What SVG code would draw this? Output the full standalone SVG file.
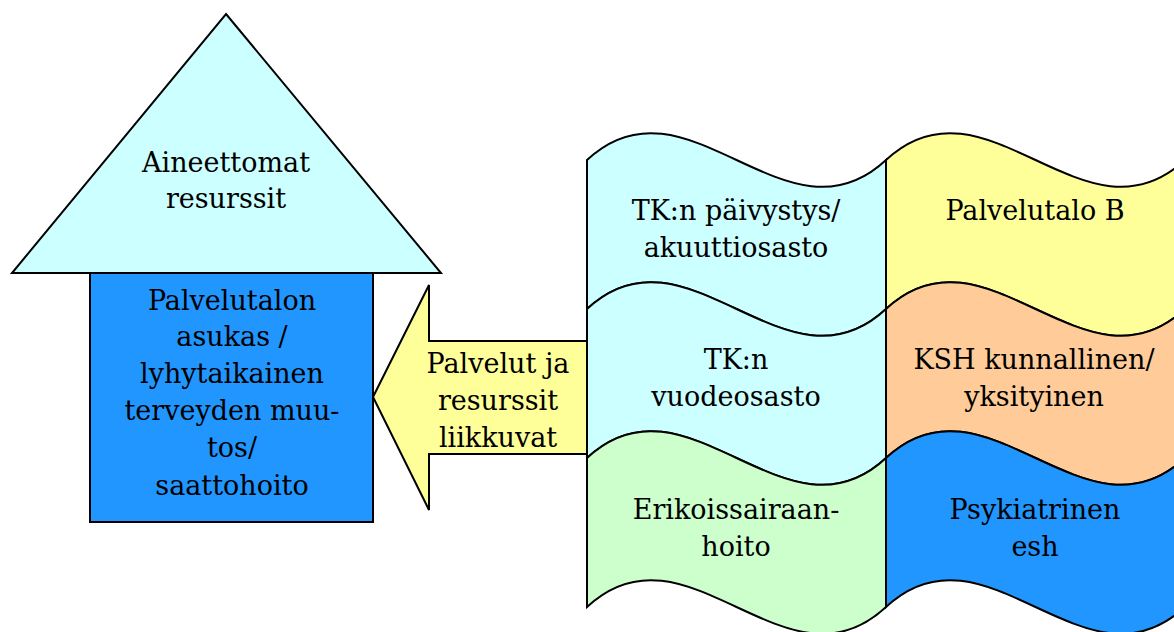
<svg xmlns="http://www.w3.org/2000/svg" width="1174" height="632" viewBox="0 0 1174 632">
  <style>
    .shape { stroke: #000; stroke-width: 2; stroke-linejoin: miter; }
    .label { font-family: "DejaVu Serif", "Liberation Serif", serif; font-size: 27px; fill: #000; text-anchor: middle; }
    .cyan { fill: #CCFFFF; }
    .yellow { fill: #FFFF99; }
    .orange { fill: #FFCC99; }
    .green { fill: #CCFFCC; }
    .blue { fill: #2196FF; }
  </style>
  <defs>
    <!-- one wave band: width 299, height 149, top edge at y=0 -->
    <path id="wave" d="M0,0 C99.7,-93 199.3,93 299,0 L299,149 C199.3,242 99.7,56 0,149 Z"/>
  </defs>
  <rect width="1174" height="632" fill="#fff"/>

  <!-- house: roof and body -->
  <g id="roof">
    <polygon class="shape cyan" points="226,14 441,273 12,273"/>
    <text class="label" x="226" y="172">Aineettomat</text>
    <text class="label" x="226" y="208">resurssit</text>
  </g>
  <g id="resident">
    <rect class="shape blue" x="90" y="273" width="283" height="249"/>
    <text class="label" x="232" y="310">Palvelutalon</text>
    <text class="label" x="232" y="346">asukas /</text>
    <text class="label" x="232" y="383">lyhytaikainen</text>
    <text class="label" x="232" y="420">terveyden muu-</text>
    <text class="label" x="232" y="457">tos/</text>
    <text class="label" x="232" y="495">saattohoito</text>
  </g>

  <!-- block arrow towards the house -->
  <g id="connectors">
    <g id="flow-arrow">
      <polygon class="shape yellow" points="373,397 429,285 429,341 587,341 587,454 429,454 429,510"/>
      <text class="label" x="498" y="373">Palvelut ja</text>
      <text class="label" x="498" y="410">resurssit</text>
      <text class="label" x="498" y="447">liikkuvat</text>
    </g>
  </g>

  <!-- service bands, left column -->
  <g id="tk-emergency">
    <use href="#wave" class="shape cyan" x="587" y="160"/>
    <text class="label" x="736" y="220">TK:n päivystys/</text>
    <text class="label" x="736" y="257">akuuttiosasto</text>
  </g>
  <g id="tk-ward">
    <use href="#wave" class="shape cyan" x="587" y="309"/>
    <text class="label" x="736" y="369">TK:n</text>
    <text class="label" x="736" y="406">vuodeosasto</text>
  </g>
  <g id="specialist-care">
    <use href="#wave" class="shape green" x="587" y="458"/>
    <text class="label" x="736" y="519">Erikoissairaan-</text>
    <text class="label" x="736" y="556">hoito</text>
  </g>

  <!-- service bands, right column -->
  <g id="service-house-b">
    <use href="#wave" class="shape yellow" x="886" y="160"/>
    <text class="label" x="1035" y="220">Palvelutalo B</text>
  </g>
  <g id="nursing-home">
    <use href="#wave" class="shape orange" x="886" y="309"/>
    <text class="label" x="1034" y="369">KSH kunnallinen/</text>
    <text class="label" x="1034" y="406">yksityinen</text>
  </g>
  <g id="psychiatric">
    <use href="#wave" class="shape blue" x="886" y="458"/>
    <text class="label" x="1035" y="519">Psykiatrinen</text>
    <text class="label" x="1035" y="556">esh</text>
  </g>
</svg>
